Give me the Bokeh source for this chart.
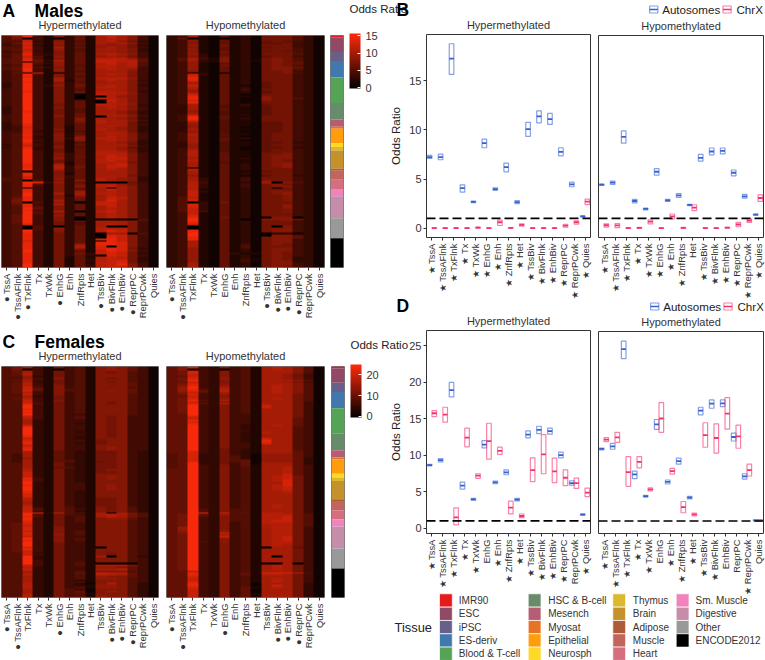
from bokeh.embed import file_html
from bokeh.resources import INLINE
from bokeh.plotting import figure
from bokeh.layouts import row, column
from bokeh.models import (Range1d, FixedTicker, Label, Span, ColorBar, LinearColorMapper, Title)
import numpy as np

FONT = "Liberation Sans"
INK = "#333333"

STATES = ["TssA", "TssAFlnk", "TxFlnk", "Tx", "TxWk", "EnhG", "Enh", "ZnfRpts", "Het",
          "TssBiv", "BivFlnk", "EnhBiv", "ReprPC", "ReprPCwk", "Quies"]

# which tick labels carry a mark
A_HYPER_DOT = ["TssA", "TssAFlnk", "TxFlnk", "EnhG", "TssBiv", "BivFlnk", "EnhBiv", "ReprPC"]
A_HYPO_DOT = ["TssA", "TssAFlnk", "TssBiv", "BivFlnk", "EnhBiv", "ReprPC"]
C_HYPER_DOT = ["TssA", "TssAFlnk", "EnhG", "BivFlnk", "EnhBiv", "ReprPC"]
C_HYPO_DOT = ["TssA", "TssAFlnk", "EnhG", "BivFlnk", "EnhBiv", "ReprPC"]
B_HYPER_STAR = STATES
B_HYPO_STAR = [s for s in STATES if s != "Het"]
D_HYPER_STAR = [s for s in STATES if s not in ("EnhG", "ReprPCwk")]
D_HYPO_STAR = [s for s in STATES if s not in ("EnhG", "EnhBiv", "ReprPC", "Quies")]

# Heat maps: one hex digit per cell, rows top to bottom
A_HYPER = """58f428362aca841 570420362aba841 56c428362aba841 55c328352ab9731 46d429362a9a841
45c328352999731 55d42a3629a9741 56c429352aa9831 45c328352999731 45d428362aa9841
56e438362aba841 46c5293629a9741 56d528362bbb951 56e63a362ccbb61 560629362ccbb51
56e539362bcab51 45e429352bbab51 56e538362bbaa41 56f429362aba941 45e428352aaa841
460c20362aaa841 45f528362aba841 45e428352aaa841 45f42a362bbb941 45f42a262aba831
45e4283529aa841 35f428362aaa841 35f439372aba831 35f428362bba841 45f428352aaa841
45e428362bba831 45f428372bbb941 45f428302cba841 45f4283020b9841 45f428302cba841
45f4283520ca841 45f4283620ba841 45f427362cbb941 45f427362bba831 35f428362aba841
35f427352aaa841 35e427352aa9731 35f427362aa9731 45f428372aba841 45f4283620aa841
45f427382aa9731 45f427382baa841 35f427372baa731 35e427362aaa741 34e427262aba731
34d427262aa9731 34e428262ba9731 44e327252aaa731 45e428262aba841 45f429362aaa841
45e328282aba841 45e328392bba841 45f428282aba831 45e327252aa9731 35d427262aaa731
45c428262aaa841 35e328252aa9631 45f327262aa9731 45f427262bba731 45f428362bbb841
45f428362bcb841 45f428372acb841 45f429362bcc841 45f427362bcb841 45f427262bbb741
45e42a262abc841 45e42b372acc841 45e42b372aba841 45f42a362aba841 450428362aaa841
45e428262aaa841 45e428362aaa741 45c428462aba831 55d429362ba9831 550528382ba9831
45fd39362000741 45e528372bb9741 45e428382bca841 450428362a0a841 45e428362aca841
45e428392aba841 45f42a3a2bba841 45f428292aba841 46e428372acb841 47e428372acb841
47e42a362ada841 470529302cca841 46e42a362cca841 45e528362aca841 45f628362aba841
45e428362aba841 45f52a302bca841 45f528362aba841 46f429362aba841 46f428302aba841
46f428302000051 46f428362bba951 46f427352aaa841 45d427352aba841 450520362a00841
450529362bbb841 45f528362bdc841 45f428362bdc841 45e4273620aa051 45e4273620dc841
45e4273620ec841 45e427362dec841 45c4273620ec841 45e427362eed841 45e427392eed841
45e4273b2d0d841 45e427392ded731 45f427362ced841 45f427362cdc731 45e427373cdc731
45e4273630dc741 45e427262bcb731 45e427263bcc731 45e427263bcd731 45e427262ccd741
45f427263bce841 45f427263bcc841""".split()

A_HYPO = """34a216231777531 360210231777531 349216231777531 348216231676431 348216231667431
349217231777431 348216231677431 349216231777531 348216231676431 349217231777531
349316231777531 348317231677431 35a428231787531 35a328232787531 349328231787631
349216231787631 349217231787531 349216231788631 349216231788531 348216231778431
340310231778531 34c316231777431 34d216231777431 34e216231777431 34d216231777431
34b216231677431 34a216231677431 34c216221677431 34b216231677431 34a216241777431
349216231677431 34b216231677431 34c216211777431 34e216221877431 34e216211977531
34d216211877431 34e216211777431 34b216231777431 33a215231677431 33a215221677431
33a216221677431 339215221677431 33a215221677431 34b215231677431 34e216221777431
34f216231777431 34d215221777431 33a215221667431 339215221667431 339215221667431
339215211667431 33a215221667431 339215211667431 34a215221677431 34b216221677431
34a215211677431 34a216231677431 34a216211677431 33a215221667331 339215221677431
339215221677431 339215211667331 34a215211677431 34b215221677431 34b216221778431
34b216221788431 34a216221788431 34a216231788431 34b216221787431 34a215221788431
34a216231789431 34a216231789431 340216231778431 34b216231777431 34a216221677431
34a216231777431 349216221677331 34a216231777431 34a316241777431 34a316241877431
34b416231a08531 34b316241787431 34b316241788431 34b316231707431 34b216231777431
34c316231788431 34c216231789431 34c216231778431 35b216231778431 35c216231778431
35c216231778431 350317231777431 35d316231778431 35d316231779431 35c316231778431
35c316231777431 35c416231778431 34c216231777431 34d216231777431 34e217231088031
34f216201888631 34f216231778431 34e216231777431 34c216231777431 340216231708431
340216231788431 34e216231789431 34e216231788431 34f216231033131 34f216231088531
34e216231788631 34e216231788431 34a216231788431 34a216231788431 34a216241787431
34a216251777431 349216241788431 349216231788431 349216231787431 349216322787431
349216231787431 349216231787331 349216242787331 349216241788331 34a216231788431
34a216231788431 34a216231787431""".split()

C_HYPER = """57a427452898641 570420452898641 56a427452888641 56a427452878541 56b427452888541
559327452888541 559428452878541 56a427452888541 55a327452878541 56b427452888641
56b428452888641 56c528452888541 56c628552888641 56d528552898641 56b428452888641
55c428452888541 55a327452888541 56b427452888541 55c428452888541 55c427452878541
55d527452878541 55f427452888541 55f427452888541 55e427452888541 55f427452888541
55e427452888541 55f427442888541 55c427452878441 55b427452878441 55a327442878441
55a327442878441 55a327432878441 55c327442878441 55f327442878441 55f327442878441
55f327432878441 55f327432878441 55f327442878441 55e327432878441 55c327432888441
55d327442788441 55e327442788441 55e327432788441 55c327442888441 55d327442898441
55e327442898441 55c326432778431 55a326432778431 54a326432778431 54a326432778431
549326432778431 54a326532778431 54a326532678431 55a327432778431 55a327432778431
55a326532778431 55b327432788431 55b327432788431 55c327432778431 55c327432888431
55c327432898431 55e427432898431 55e427432888431 55f327432888431 55f327442888431
55e327442898431 55f327442898431 55f327442898431 55e327432888431 55e327432888431
55d327432888431 55d327432888431 55b327432778431 55b327432778431 55a327432778431
55a327432778431 55b327432778431 55c427532878531 55c527542878531 55c427532878531
55ed3b552a0a751 55f527542aba751 55e527452aba751 55f427452899641 55e427452888541
55d427452888541 56d427442888541 56c427442888541 56d428442888541 56d428442888541
56c428452888541 56e428452888541 56d429452888541 56c428442888541 56f428452888541
56e428452888541 56f428442888541 56f427442888541 56f427442888541 56d427442088541
56e427442888541 56c427442888541 55d327442878541 55c427442878541 55f327442a08531
55f327442888541 55f427442888541 55f427452888541 55f427452000041 55c427452aaa741
55b327442998641 55c327442aab641 55a327452888541 55a327462cbb641 55b327452bba641
55a327452988641 55a327452998541 55a327432888541 55a327452898541 55b3274318a8531
55b327432998531 55b327452998531 55a327541888531 55a327561898531 55a327562888531
55b327552888531 55b327562988531""".split()

C_HYPO = """68d438452aba851 680430452aba851 67c438452aaa851 67d438452aaa851 67c438452aa9741
66c438452aa9741 67d439452aa9741 67e438452aaa851 66c438452aa9741 67d438452aaa851
68e439452aba851 69f43a452aba851 69e53b452aba851 69e73c452aba851 68c53a452aba851
67d439452aaa751 66c438452aaa751 67d439452aba751 67e53a452aaa751 67c438452aaa741
67d53a452aaa741 67f438452caa741 67f438452caa741 67f438452aaa741 67f438452aaa741
67f438452aaa741 66f438442aaa741 66d438442aaa741 66c438442aaa641 66e438442aaa641
66d438442aaa641 66e438442aaa641 66f438432aba641 66f438432aaa541 66f438432aaa541
66f438442aaa541 66f438432baa541 66f438432aaa541 66f438432aaa541 66f438432caa541
66f438432eaa541 66f438432eaa541 66f438442daa541 66f438442aaa541 66f438442aaa541
66f437432aaa541 66e437432aaa641 66d437432aaa641 56d337431999641 56d337531999641
56d337531999631 56d337561999631 56e337561999631 56f337461aaa631 56f438462aaa641
56f438452aab641 66f438452aab641 66f438452aab641 66f438452aab641 66f438452aac641
66f438452abc741 66f438452abc741 66f438452abd741 66f438452aad741 66f438452aad741
66f438452abd741 66f438452abc741 66f438452abc741 66f438452aab741 66f438452aab741
66f438452aaa741 66f438452aaa741 66f438452aaa741 66f438452aaa741 66f438452aaa741
66f438452aaa741 66f438452aba741 66f438452aba741 66f538552aaa741 66f538552aaa741
66fd3c562bba741 67f639552bbb751 67f538552bbc751 67f438552bbc751 67f438552bcc751
67f438452bcc751 67f438452bbb751 67f438452abb751 69f438452abb741 69f438452abb741
68f439452abb741 68f43c452abb741 67f43a452abb741 67f43c452abc741 67f439452abc741
67f438452abc741 67f539452abb741 67f438452abb741 67f438452aba741 67f4384520aa641
67f438452aaa741 67f438452aaa741 67f438452aaa741 67f438452aaa741 67f438452a0a741
67f438452aaa741 67f438452aaa741 67f438452aaa741 67f43845200a041 67f438452aba741
67f438452aba741 67f438452aba741 66c438452aaa741 66e438462dedb51 66e438462bba741
66d438452aaa741 66c438452aba741 66c438452aba741 66d438452aca741 66e438451aaa731
66e438451aca731 66d438462aba731 66c438461aaa731 66c438461aaa731 66c438462aaa731
66c438462aaa731 66c438462aaa731""".split()

A_UNIT = 1.0
C_UNIT = 1.6
A_MAX = 15.6
C_MAX = 24.9

# Tissue strip (epigenomes per tissue, top to bottom)
STRIP_TISSUE = ["IMR90", "ESC", "iPSC", "ES-deriv", "Blood & T-cell", "HSC & B-cell", "Mesench", "Myosat",
                "Epithelial", "Neurosph", "Thymus", "Brain", "Adipose", "Muscle", "Heart", "Sm. Muscle",
                "Digestive", "Other", "ENCODE2012"]
STRIP_COUNT = [1, 8, 5, 9, 14, 9, 4, 1, 8, 2, 2, 10, 1, 5, 5, 4, 12, 11, 16]
TISSUE_COLOR = ["#E41A1C", "#924965", "#69608A", "#4178AE", "#55A354", "#678C69", "#B65C73", "#E67326",
                "#FF9D0C", "#FFD924", "#DAB92E", "#C5912B", "#AF5B39", "#C2655D", "#D56F80", "#F182BC",
                "#C58DAA", "#999999", "#000000"]

# Crossbars: median, low, high
B_HYPER_AUTO_MED = [7.23, 7.23, 17.24, 4.07, 2.68, 8.65, 3.97, 6.2, 2.65, 10.08, 11.37, 11.1, 7.77, 4.45, 1.19]
B_HYPER_AUTO_LOW = [7.1, 6.96, 15.64, 3.66, 2.6, 8.18, 3.85, 5.73, 2.5, 9.33, 10.72, 10.55, 7.36, 4.21, 1.14]
B_HYPER_AUTO_HIGH = [7.4, 7.53, 18.76, 4.41, 2.76, 9.06, 4.1, 6.62, 2.8, 10.76, 11.94, 11.67, 8.18, 4.68, 1.24]
B_HYPER_X_MED = [0, 0, 0, 0, 0.05, 0, 0.6, 0.02, 0.33, 0, 0, 0, 0.25, 0.6, 2.7]
B_HYPER_X_LOW = [-0.03, -0.03, -0.03, -0.03, 0, -0.03, 0.27, -0.02, 0.2, -0.03, -0.03, -0.03, 0.1, 0.4, 2.4]
B_HYPER_X_HIGH = [0.03, 0.03, 0.03, 0.03, 0.1, 0.03, 0.81, 0.06, 0.45, 0.03, 0.03, 0.03, 0.4, 0.75, 2.95]

B_HYPO_AUTO_MED = [4.45, 4.65, 9.33, 2.78, 1.97, 5.77, 2.85, 3.36, 2.38, 7.19, 7.84, 7.91, 5.67, 3.26, 1.39]
B_HYPO_AUTO_LOW = [4.38, 4.48, 8.69, 2.58, 1.88, 5.42, 2.75, 3.15, 2.3, 6.85, 7.5, 7.6, 5.35, 3.07, 1.33]
B_HYPO_AUTO_HIGH = [4.5, 4.82, 9.94, 2.95, 2.05, 6.1, 2.95, 3.55, 2.45, 7.55, 8.2, 8.2, 5.95, 3.45, 1.45]
B_HYPO_X_MED = [0.3, 0.28, 0, 0.03, 0.67, 0, 1.2, 0.03, 2.1, 0, 0, 0.05, 0.38, 0.78, 3.09]
B_HYPO_X_LOW = [0.12, 0.05, -0.02, -0.02, 0.45, -0.03, 0.95, -0.02, 1.8, -0.03, -0.03, 0, 0.15, 0.6, 2.75]
B_HYPO_X_HIGH = [0.45, 0.48, 0.06, 0.08, 0.85, 0.03, 1.45, 0.08, 2.4, 0.03, 0.03, 0.1, 0.6, 0.95, 3.4]

D_HYPER_AUTO_MED = [8.65, 9.33, 18.94, 5.83, 3.96, 11.47, 6.28, 7.65, 3.92, 12.84, 13.48, 13.3, 10.02, 6.19, 1.87]
D_HYPER_AUTO_LOW = [8.55, 9.1, 17.99, 5.37, 3.85, 11.02, 6.1, 7.33, 3.75, 12.39, 12.98, 12.89, 9.65, 5.92, 1.78]
D_HYPER_AUTO_HIGH = [8.75, 9.55, 19.99, 6.33, 4.1, 12.02, 6.45, 8.01, 4.1, 13.34, 13.98, 13.71, 10.43, 6.51, 1.96]
D_HYPER_X_MED = [15.76, 15.57, 1.5, 12.43, 7.2, 11.93, 10.61, 2.82, 1.68, 7.97, 10.11, 7.79, 6.92, 6.19, 4.87]
D_HYPER_X_LOW = [15.3, 14.53, 0.46, 11.16, 6.83, 9.47, 10.11, 1.96, 1.45, 6.38, 7.47, 6.24, 5.83, 5.46, 4.33]
D_HYPER_X_HIGH = [16.12, 16.58, 2.78, 13.71, 7.47, 14.39, 11.11, 3.73, 1.95, 9.65, 12.84, 9.61, 8.01, 6.88, 5.51]

D_HYPO_AUTO_MED = [10.93, 11.29, 24.68, 7.42, 4.42, 14.3, 6.38, 9.24, 4.23, 16.21, 17.17, 17.21, 12.57, 7.15, 1.09]
D_HYPO_AUTO_LOW = [10.8, 10.88, 23.36, 6.83, 4.3, 13.62, 6.1, 8.83, 4.05, 15.62, 16.53, 16.76, 12.02, 6.78, 1.02]
D_HYPO_AUTO_HIGH = [11.05, 11.7, 25.77, 7.88, 4.55, 14.98, 6.65, 9.65, 4.4, 16.67, 17.67, 17.67, 13.11, 7.51, 1.16]
D_HYPO_X_MED = [12.2, 12.52, 7.74, 9.15, 5.37, 15.12, 7.88, 2.91, 1.91, 12.84, 12.43, 15.8, 12.66, 8.01, 1.09]
D_HYPO_X_LOW = [11.93, 11.84, 5.78, 8.33, 5.15, 13.21, 7.47, 2.14, 1.72, 11.16, 10.34, 13.66, 11.02, 7.2, 1.0]
D_HYPO_X_HIGH = [12.48, 13.21, 9.88, 9.88, 5.55, 17.3, 8.24, 3.69, 2.1, 14.53, 14.39, 17.99, 14.21, 8.83, 1.15]

B_TICKS = [0, 5, 10, 15]
D_TICKS = [0, 5, 10, 15, 20, 25]
A_CB_TICKS = [0, 5, 10, 15]
C_CB_TICKS = [0, 10, 20]
SERIES = ["Autosomes", "ChrX"]

AUTO_COLOR = "#3461D1"
X_COLOR = "#F5316C"

PALETTE = ["#%02x%02x%02x" % (round(255 * t), round(42 * t), round(10 * t)) for t in np.linspace(0, 1, 256)]


def panel_title(fig, text, standoff):
    fig.add_layout(Title(text=text, align="center", text_font=FONT, text_font_size="11px", text_color=INK,
                         text_font_style="normal", standoff=standoff), "above")


def letter_title(fig, text, offset, standoff, size=17.5):
    fig.add_layout(Title(text=text, align="left", offset=offset, text_font=FONT, text_font_size=f"{size}px",
                         text_color="#000000", text_font_style="bold", standoff=standoff), "above")


def state_axis(fig, marked, mark, standoff=3):
    ax = fig.xaxis[0]
    ax.ticker = FixedTicker(ticks=[i + 0.5 for i in range(15)])
    ax.major_label_overrides = {i + 0.5: (f"{mark} {s}" if s in marked else s) for i, s in enumerate(STATES)}
    ax.major_label_orientation = np.pi / 2
    ax.major_label_text_font = FONT
    ax.major_label_text_font_size = "9.4px"
    ax.major_label_text_color = INK
    ax.major_label_standoff = standoff
    ax.axis_line_color = None
    ax.major_tick_line_color = INK
    ax.major_tick_out = 3
    ax.major_tick_in = 0
    ax.minor_tick_line_color = None


def heat(title, rows, unit, vmax, marked, width, left, right, height, top, bottom):
    mapper = LinearColorMapper(palette=PALETTE, low=0, high=vmax)
    p = figure(width=width, height=height, x_range=Range1d(0, 15), y_range=Range1d(0, len(rows)),
               min_border_left=left, min_border_right=right, min_border_top=top, min_border_bottom=bottom,
               y_axis_type=None, toolbar_location=None, output_backend="svg", border_fill_color=None)
    grid = np.array([[int(c, 16) * unit for c in r] for r in rows], dtype=float)[::-1]
    p.image(image=[grid], x=0, y=0, dw=15, dh=len(rows), color_mapper=mapper)
    p.grid.visible = False
    p.outline_line_color = "#7a7a7a"
    p.outline_line_width = 1
    state_axis(p, marked, "●")
    panel_title(p, title, 9.4)
    return p


def strip(width, left, right, height, top, bottom):
    p = figure(width=width, height=height, x_range=Range1d(0, 1), y_range=Range1d(sum(STRIP_COUNT), 0),
               min_border_left=left, min_border_right=right, min_border_top=top, min_border_bottom=bottom,
               x_axis_type=None, y_axis_type=None, toolbar_location=None, output_backend="svg",
               border_fill_color=None)
    edges = np.cumsum([0] + STRIP_COUNT)
    p.quad(left=0, right=1, top=edges[:-1], bottom=edges[1:], fill_color=TISSUE_COLOR, line_color=None)
    p.grid.visible = False
    p.outline_line_color = "#7a7a7a"
    return p


def crossbars(p, x, med, low, high, color, w=0.42):
    x = np.asarray(x)
    p.quad(left=x - w / 2, right=x + w / 2, top=high, bottom=low, fill_alpha=0, line_color=color,
           line_alpha=0.6, line_width=1.2)
    p.segment(x0=x - w / 2, x1=x + w / 2, y0=med, y1=med, line_color=color, line_width=1.8)


def boxes(title, ymin, ymax, ticks, marked, data, width, left, right, height, top, bottom, y_axis):
    p = figure(width=width, height=height, x_range=Range1d(0, 15), y_range=Range1d(ymin, ymax),
               min_border_left=left, min_border_right=right, min_border_top=top, min_border_bottom=bottom,
               toolbar_location=None, output_backend="svg", border_fill_color=None,
               y_axis_type="linear" if y_axis else None)
    p.grid.visible = False
    p.outline_line_color = "#333333"
    p.outline_line_width = 1
    xs = np.arange(15) + 0.5
    crossbars(p, xs - 0.21, *data[0], AUTO_COLOR)
    crossbars(p, xs + 0.21, *data[1], X_COLOR)
    p.add_layout(Span(location=1, dimension="width", line_color="#000000", line_dash="9 4", line_width=1.7))
    state_axis(p, marked, "★")
    if y_axis:
        ax = p.yaxis[0]
        ax.ticker = FixedTicker(ticks=ticks)
        ax.axis_label = "Odds Ratio"
        ax.axis_label_text_font = FONT
        ax.axis_label_text_font_style = "normal"
        ax.axis_label_text_font_size = "11.6px"
        ax.axis_label_text_color = "#222222"
        ax.axis_label_standoff = 4
        ax.major_label_text_font = FONT
        ax.major_label_text_font_size = "11px"
        ax.major_label_text_color = INK
        ax.major_label_standoff = 2
        ax.axis_line_color = None
        ax.major_tick_line_color = INK
        ax.major_tick_out = 3
        ax.major_tick_in = 0
        ax.minor_tick_line_color = None
    panel_title(p, title, 8)
    return p


def colorbar(p, low, high, ticks, x, y, height):
    mapper = LinearColorMapper(palette=PALETTE, low=low, high=high)
    cb = ColorBar(color_mapper=mapper, ticker=FixedTicker(ticks=ticks), width=11, height=height, location=(x, y),
                  padding=0, margin=0, major_label_text_font=FONT, major_label_text_font_size="11px",
                  major_label_text_color=INK, label_standoff=5, major_tick_line_color="white",
                  major_tick_in=3, minor_tick_line_color=None, bar_line_color=None, border_line_color=None,
                  background_fill_alpha=0)
    p.add_layout(cb)


def colorbar_title(text, x, center):
    height = 2 * center
    t = figure(width=66, height=height, x_range=Range1d(0, 66), y_range=Range1d(height, 0), x_axis_type=None,
               y_axis_type=None, min_border=0, toolbar_location=None, output_backend="svg",
               outline_line_color=None, border_fill_color=None, background_fill_color=None,
               margin=(0, -66, 0, 0))
    t.grid.visible = False
    t.add_layout(Label(x=x, y=center, text=text, text_font=FONT, text_font_size="11.5px", text_color="#222222",
                       text_baseline="middle"))
    return t


def series_key(height, center, key_x, text_x, margin_top, overlap):
    k = figure(width=171, height=height, x_range=Range1d(594, 765), y_range=Range1d(height, 0), x_axis_type=None,
               y_axis_type=None, min_border=0, toolbar_location=None, output_backend="svg",
               outline_line_color=None, border_fill_color=None, margin=(margin_top, 0, -overlap, 0))
    k.grid.visible = False
    for name, color, kx, tx in zip(SERIES, [AUTO_COLOR, X_COLOR], key_x, text_x):
        k.quad(left=kx, right=kx + 8.5, top=center - 3.5, bottom=center + 3.5, fill_alpha=0, line_color=color,
               line_alpha=0.6, line_width=1.2)
        k.segment(x0=kx, x1=kx + 8.5, y0=center, y1=center, line_color=color, line_width=1.4)
        k.add_layout(Label(x=tx, y=center, text=name, text_font=FONT, text_font_size="11.6px",
                           text_color="#222222", text_baseline="middle"))
    return k


NB = "\u00a0"

# Left side
A1 = heat("Hypermethylated", A_HYPER, A_UNIT, A_MAX, A_HYPER_DOT, 162, 1, 4, 328, 35, 61)
A2 = heat("Hypomethylated", A_HYPO, A_UNIT, A_MAX, A_HYPO_DOT, 166, 4, 4, 328, 35, 61)
AS = strip(17, 2, 2, 328, 35, 61)
letter_title(A1, "A" + NB * 4 + "Males", 1, -16.8)

C1 = heat("Hypermethylated", C_HYPER, C_UNIT, C_MAX, C_HYPER_DOT, 162, 1, 4, 332, 38, 63)
C2 = heat("Hypomethylated", C_HYPO, C_UNIT, C_MAX, C_HYPO_DOT, 166, 4, 4, 332, 38, 63)
CS = strip(17, 3, 1, 332, 38, 63)
letter_title(C1, "C" + NB * 4 + "Females", 1, -16.8)

# Right side
B1 = boxes("Hypermethylated", -0.95, 19.7, B_TICKS, B_HYPER_STAR,
           ((B_HYPER_AUTO_MED, B_HYPER_AUTO_LOW, B_HYPER_AUTO_HIGH), (B_HYPER_X_MED, B_HYPER_X_LOW, B_HYPER_X_HIGH)),
           249, 81, 4, 302, 34, 65, True)
B2 = boxes("Hypomethylated", -0.95, 19.7, B_TICKS, B_HYPO_STAR,
           ((B_HYPO_AUTO_MED, B_HYPO_AUTO_LOW, B_HYPO_AUTO_HIGH), (B_HYPO_X_MED, B_HYPO_X_LOW, B_HYPO_X_HIGH)),
           171, 4, 2, 289, 21, 65, False)
letter_title(B1, "B", -30, -14)
colorbar(B1, -0.2, 15.67, A_CB_TICKS, 349 - 426, 237 - 88, 55)
BK = series_key(15, 9, [647, 723], [660, 737], 0, 2)
BT = colorbar_title("Odds Ratio", 4, 24)

D1 = boxes("Hypermethylated", -0.72, 27.1, D_TICKS, D_HYPER_STAR,
           ((D_HYPER_AUTO_MED, D_HYPER_AUTO_LOW, D_HYPER_AUTO_HIGH), (D_HYPER_X_MED, D_HYPER_X_LOW, D_HYPER_X_HIGH)),
           249, 81, 4, 310, 42, 65, True)
D2 = boxes("Hypomethylated", -0.72, 27.1, D_TICKS, D_HYPO_STAR,
           ((D_HYPO_AUTO_MED, D_HYPO_AUTO_LOW, D_HYPO_AUTO_HIGH), (D_HYPO_X_MED, D_HYPO_X_LOW, D_HYPO_X_HIGH)),
           171, 4, 2, 289, 21, 65, False)
letter_title(D1, "D", -30, -14)
colorbar(D1, -0.5, C_MAX, C_CB_TICKS, 350 - 426, 533 - 417, 53)
DK = series_key(15, 8, [648, 724], [661, 738], 10, 4)
DT = colorbar_title("Odds Ratio", 5, 68)

# Tissue legend
TISSUE_COLS = [["IMR90", "ESC", "iPSC", "ES-deriv", "Blood & T-cell"],
               ["HSC & B-cell", "Mesench", "Myosat", "Epithelial", "Neurosph"],
               ["Thymus", "Brain", "Adipose", "Muscle", "Heart"],
               ["Sm. Muscle", "Digestive", "Other", "ENCODE2012"]]
L = figure(width=420, height=68, x_range=Range1d(345, 765), y_range=Range1d(660, 592), x_axis_type=None,
           y_axis_type=None, min_border=0, toolbar_location=None, output_backend="svg", outline_line_color=None,
           border_fill_color=None, background_fill_color=None, margin=(-6, 0, 0, 0))
L.grid.visible = False
swatch_x = [439, 527.7, 612.3, 675.7]
text_x = [458.3, 547.7, 632.3, 695]
for cx, tx, names in zip(swatch_x, text_x, TISSUE_COLS):
    for i, name in enumerate(names):
        top = 593.3 + i * 13.33
        L.quad(left=cx, right=cx + 12.8, top=top, bottom=top + 13.33,
               fill_color=TISSUE_COLOR[STRIP_TISSUE.index(name)], line_color="#ffffff", line_width=0.7)
        L.add_layout(Label(x=tx, y=top + 6.7, text=name, text_font=FONT, text_font_size="10px",
                           text_color=INK, text_baseline="middle"))
L.add_layout(Label(x=394, y=627, text="Tissue", text_font=FONT, text_font_size="12.9px",
                   text_color="#222222", text_baseline="middle"))

left = column(row(A1, A2, AS, spacing=0), row(C1, C2, CS, spacing=0), spacing=0)
right = column(row(BT, B1, column(BK, B2, spacing=0), spacing=0),
               row(DT, D1, column(DK, D2, spacing=0), spacing=0, margin=(-14, 0, 0, 0)),
               L, spacing=0)
page = row(left, right, spacing=0)
open("out.html", "w").write(file_html(page, INLINE))
